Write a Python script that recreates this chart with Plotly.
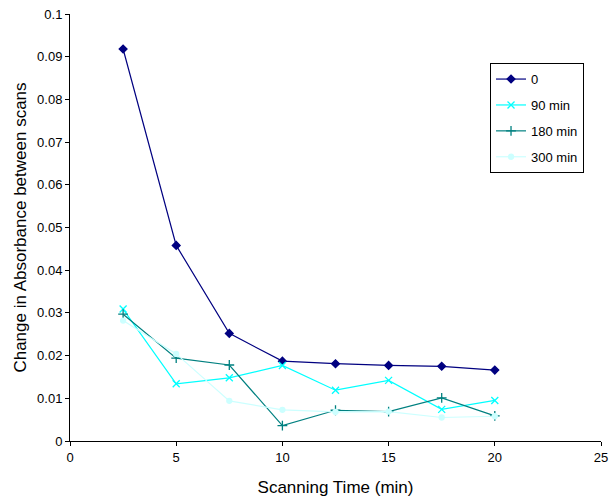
import plotly.graph_objects as go

x = [2.5, 5, 7.5, 10, 12.5, 15, 17.5, 20]
s0 = [0.0918, 0.0458, 0.0252, 0.0187, 0.0181, 0.0177, 0.0175, 0.0166]
s90 = [0.0309, 0.0134, 0.0148, 0.0177, 0.0119, 0.0142, 0.0074, 0.0095]
s180 = [0.0297, 0.0194, 0.0178, 0.0036, 0.0072, 0.0069, 0.0101, 0.0059]
s300 = [0.0282, 0.0204, 0.0094, 0.0073, 0.0068, 0.0069, 0.0055, 0.0058]
names = ["0", "90 min", "180 min", "300 min"]
colors = ["#000080", "#00FFFF", "#008080", "#CCFFFF"]
symbols = ["diamond", "x-thin", "cross-thin", "circle"]
sizes = [6, 7, 7, 5]

fig = go.Figure()
for name, ys, c, sym, sz in zip(names, [s0, s90, s180, s300], colors, symbols, sizes):
    fig.add_trace(go.Scatter(
        x=x, y=ys, name=name, mode="lines+markers", legendgroup=name,
        line=dict(color=c, width=1.2),
        marker=dict(symbol=sym, size=sz, color=c, line=dict(color=c, width=1.3)),
    ))

axis_common = dict(showgrid=False, zeroline=False, showline=True, linecolor="black",
                   linewidth=1, ticks="outside", ticklen=4, tickcolor="black",
                   tickfont=dict(size=13, color="black"), ticklabeloverflow="allow")
fig.update_layout(
    width=613, height=502,
    margin=dict(l=70, r=12, t=14, b=61, autoexpand=False),
    paper_bgcolor="white", plot_bgcolor="white",
    font=dict(family="Liberation Sans, Arial, sans-serif", color="black"),
    xaxis=dict(range=[0, 25], tickvals=[0, 5, 10, 15, 20, 25],
               title=dict(text="Scanning Time (min)", font=dict(size=17), standoff=17),
               automargin=False, **axis_common),
    yaxis=dict(range=[0, 0.1], tickvals=[i / 100 for i in range(11)],
               ticktext=["0"] + [f"{i/100:.2f}" if i < 10 else "0.1" for i in range(1, 11)],
               title=dict(text="Change in Absorbance between scans", font=dict(size=17), standoff=6),
               automargin=False, **axis_common),
    legend=dict(x=0.791, y=0.885, xanchor="left", yanchor="top",
                bordercolor="black", borderwidth=1, bgcolor="white",
                font=dict(size=13), tracegroupgap=6, itemwidth=30),
    showlegend=True,
)
fig.write_html("out.html")
